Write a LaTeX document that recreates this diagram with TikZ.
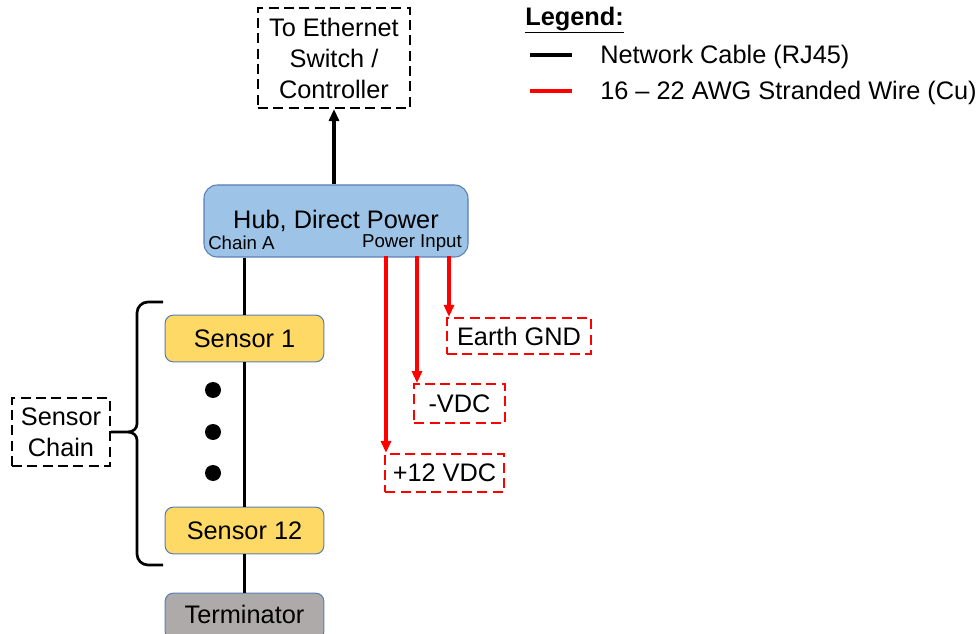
\documentclass[tikz,border=0pt]{standalone}
\usepackage{fontspec}
\setmainfont{Liberation Sans}
\usetikzlibrary{arrows.meta}

\definecolor{hubblue}{HTML}{9DC3E6}
\definecolor{edgeblue}{HTML}{5A7FB5}
\definecolor{sensoryellow}{HTML}{FFD966}
\definecolor{termgray}{HTML}{AEAAAA}
\definecolor{wirered}{HTML}{FF0000}

\tikzset{
  cable/.style={line width=2.5pt},
  wire/.style={line width=2.5pt, wirered},
  hubbox/.style={draw=edgeblue, fill=hubblue, line width=0.8pt, rounded corners=10pt,
                 minimum width=198pt, minimum height=54pt},
  unitbox/.style={draw=edgeblue, line width=0.8pt, rounded corners=6pt,
                  minimum width=119pt, minimum height=35pt},
  dashbox/.style={draw, line width=1.6pt, dash pattern=on 7.5pt off 4pt,
                  align=center, inner sep=0pt},
  reddash/.style={dashbox, draw=wirered},
  label/.style={inner sep=0pt}
}

\begin{document}
\begin{tikzpicture}[x=0.75pt, y=-0.75pt, >={Triangle[length=9pt,width=7.5pt]},
    font=\fontsize{19}{23.25}\selectfont]

  \useasboundingbox (0,0) rectangle (977,634);

  % hub and uplink
  \node[hubbox] (hub) at (336,221) {Hub, Direct Power};
  \node[label, anchor=west, font=\fontsize{14}{16}\selectfont] (chainA) at (208,243) {Chain A};
  \node[label, anchor=east, font=\fontsize{14}{16}\selectfont] (pwrin) at (462,243) {Power Input};

  \node[dashbox, minimum width=114pt, minimum height=75pt] (eth) at (334,58)
    {To Ethernet\\Switch /\\Controller};
  \draw[cable, ->] (hub.north -| eth.south) -- (eth.south);

  % sensor chain
  \node[unitbox, fill=sensoryellow] (s1) at (244.5,338.5) {Sensor 1};
  \node[unitbox, fill=sensoryellow] (s12) at (244.5,530.5) {Sensor 12};
  \node[unitbox, fill=termgray] (term) at (244.5,616.5) {\raisebox{3pt}{Terminator}};

  \draw[cable] (hub.south -| s1.north) -- (s1.north);
  \draw[cable] (s1.south) -- (s12.north);
  \draw[cable] (s12.south) -- (term.north);

  \foreach \y in {390,432,473}
  {
    \fill (213,\y) circle (6pt);
  }

  \node[dashbox, minimum width=73.5pt, minimum height=51pt] (chain) at (61,432) {Sensor\\Chain};
  \draw[cable, line width=2pt] (163,302) -- (148,302) to[out=180,in=90] (137,313) -- (137,424)
    to[out=-90,in=0] (128,432) -- (chain.east);
  \draw[cable, line width=2pt] (163,565) -- (148,565) to[out=180,in=-90] (137,554) -- (137,440)
    to[out=90,in=0] (128,432);

  % power wires
  \node[reddash, minimum width=108pt, minimum height=27pt] (gnd) at (519,336) {Earth GND};
  \node[reddash, minimum width=68pt, minimum height=29pt] (vneg) at (459.5,403.5) {-VDC};
  \node[reddash, minimum width=89pt, minimum height=28.5pt] (vpos) at (444.5,473) {+12 VDC};

  \coordinate (p1) at (386,256);
  \coordinate (p2) at (417,256);
  \coordinate (p3) at (449,256);
  \draw[wire, ->] (p3) -- (p3 |- gnd.north);
  \draw[wire, ->] (p2) -- (p2 |- vneg.north);
  \draw[wire, ->] (p1) -- (p1 |- vpos.north);

  % legend
  \node[label, anchor=west] (leg) at (525,20) {\underline{\textbf{Legend:}}};
  \coordinate (lk) at (530,55);
  \coordinate (lr) at (530,91);
  \node[label, anchor=west] (legk) at (600,57) {Network Cable (RJ45)};
  \node[label, anchor=west] (legr) at (600,93) {16 – 22 AWG Stranded Wire (Cu)};
  \draw[cable] (lk) -- ++(42,0);
  \draw[wire] (lr) -- ++(42,0);

\end{tikzpicture}
\end{document}
